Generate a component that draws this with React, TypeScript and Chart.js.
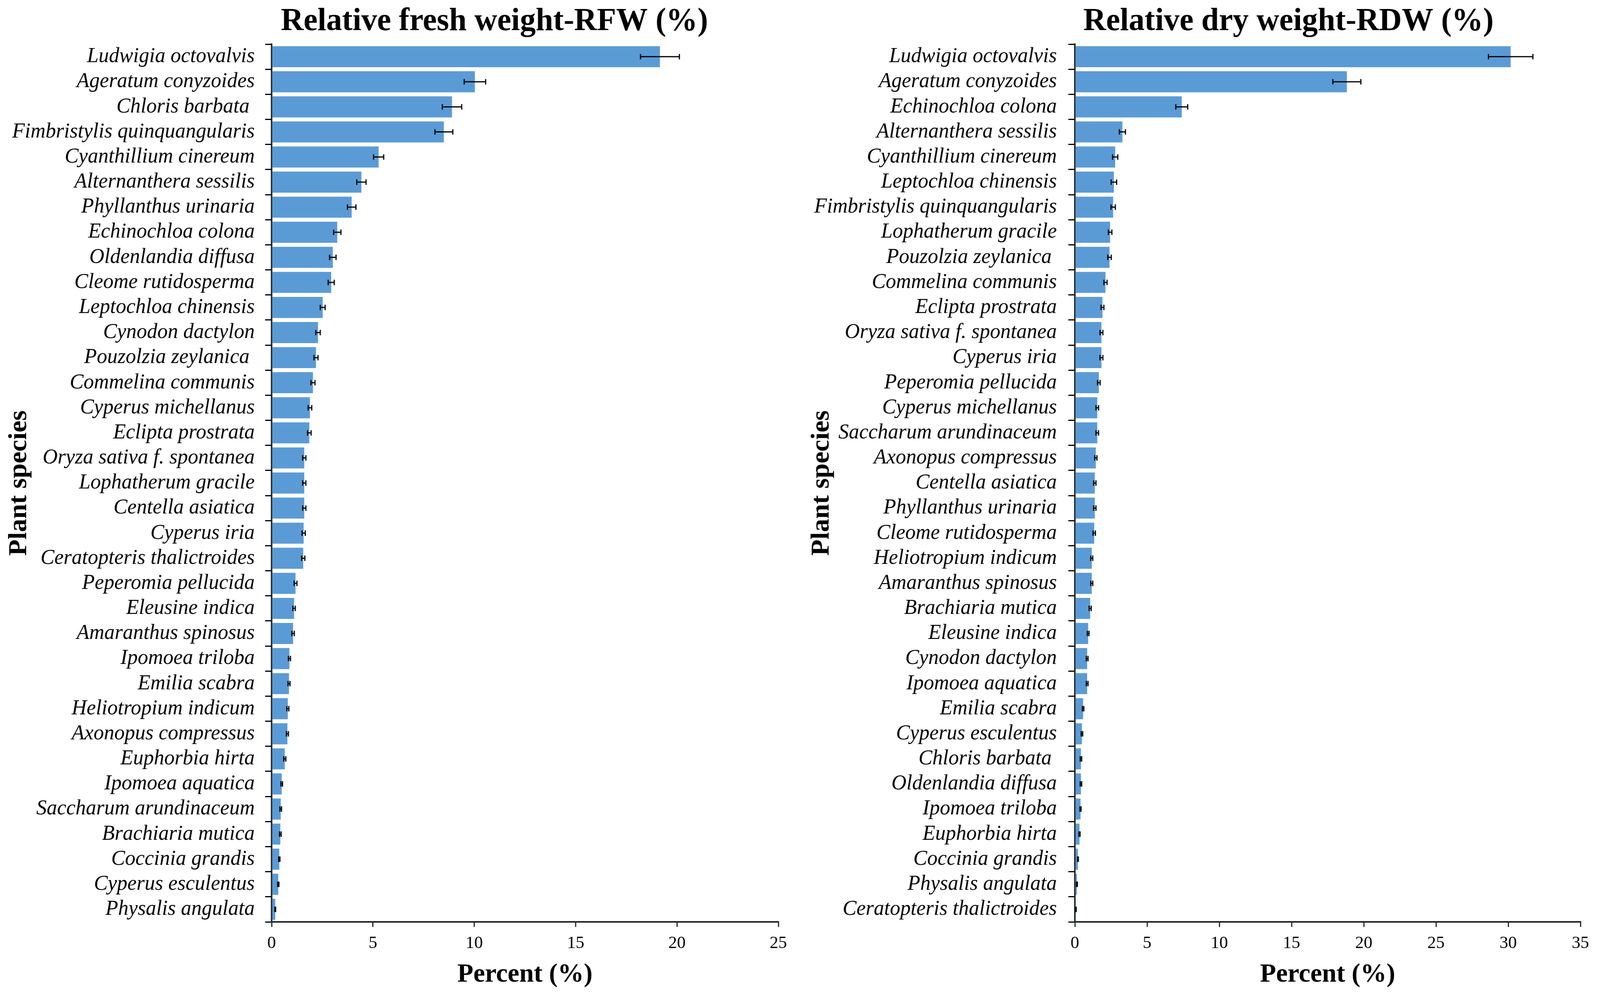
import React, { useEffect, useRef, useState } from "react";
import { Chart, registerables } from "chart.js";

Chart.register(...registerables);

// ---------- Data ----------
const freshSpecies = [
  "Ludwigia octovalvis",
  "Ageratum conyzoides",
  "Chloris barbata ",
  "Fimbristylis quinquangularis",
  "Cyanthillium cinereum",
  "Alternanthera sessilis",
  "Phyllanthus urinaria",
  "Echinochloa colona",
  "Oldenlandia diffusa",
  "Cleome rutidosperma",
  "Leptochloa chinensis",
  "Cynodon dactylon",
  "Pouzolzia zeylanica ",
  "Commelina communis",
  "Cyperus michellanus",
  "Eclipta prostrata",
  "Oryza sativa f. spontanea",
  "Lophatherum gracile",
  "Centella asiatica",
  "Cyperus iria",
  "Ceratopteris thalictroides",
  "Peperomia pellucida",
  "Eleusine indica",
  "Amaranthus spinosus",
  "Ipomoea triloba",
  "Emilia scabra",
  "Heliotropium indicum",
  "Axonopus compressus",
  "Euphorbia hirta",
  "Ipomoea aquatica",
  "Saccharum arundinaceum",
  "Brachiaria mutica",
  "Coccinia grandis",
  "Cyperus esculentus",
  "Physalis angulata",
];
const freshValues = [
  19.16, 10.03, 8.9, 8.5, 5.28, 4.43, 3.95, 3.24, 3.02, 2.94, 2.52, 2.29, 2.19,
  2.04, 1.89, 1.86, 1.61, 1.61, 1.61, 1.58, 1.56, 1.18, 1.11, 1.06, 0.88, 0.86,
  0.8, 0.78, 0.65, 0.5, 0.45, 0.43, 0.38, 0.33, 0.18,
];
const freshErrors = [
  0.96, 0.53, 0.48, 0.44, 0.25, 0.23, 0.21, 0.18, 0.16, 0.15, 0.12, 0.11, 0.1,
  0.1, 0.09, 0.09, 0.08, 0.08, 0.08, 0.08, 0.08, 0.07, 0.06, 0.06, 0.05, 0.05,
  0.05, 0.05, 0.05, 0.04, 0.04, 0.04, 0.03, 0.03, 0.02,
];

const drySpecies = [
  "Ludwigia octovalvis",
  "Ageratum conyzoides",
  "Echinochloa colona",
  "Alternanthera sessilis",
  "Cyanthillium cinereum",
  "Leptochloa chinensis",
  "Fimbristylis quinquangularis",
  "Lophatherum gracile",
  "Pouzolzia zeylanica ",
  "Commelina communis",
  "Eclipta prostrata",
  "Oryza sativa f. spontanea",
  "Cyperus iria",
  "Peperomia pellucida",
  "Cyperus michellanus",
  "Saccharum arundinaceum",
  "Axonopus compressus",
  "Centella asiatica",
  "Phyllanthus urinaria",
  "Cleome rutidosperma",
  "Heliotropium indicum",
  "Amaranthus spinosus",
  "Brachiaria mutica",
  "Eleusine indica",
  "Cynodon dactylon",
  "Ipomoea aquatica",
  "Emilia scabra",
  "Cyperus esculentus",
  "Chloris barbata ",
  "Oldenlandia diffusa",
  "Ipomoea triloba",
  "Euphorbia hirta",
  "Coccinia grandis",
  "Physalis angulata",
  "Ceratopteris thalictroides",
];
const dryValues = [
  30.17, 18.83, 7.4, 3.29, 2.79, 2.7, 2.65, 2.44, 2.4, 2.12, 1.91, 1.84, 1.84,
  1.66, 1.55, 1.55, 1.45, 1.38, 1.38, 1.34, 1.17, 1.17, 1.06, 0.92, 0.85, 0.85,
  0.57, 0.49, 0.42, 0.42, 0.39, 0.32, 0.21, 0.14, 0.07,
];
const dryErrors = [
  1.54, 0.97, 0.41, 0.21, 0.18, 0.19, 0.15, 0.12, 0.12, 0.11, 0.1, 0.1, 0.1,
  0.09, 0.09, 0.09, 0.08, 0.08, 0.08, 0.08, 0.07, 0.07, 0.07, 0.06, 0.06, 0.06,
  0.05, 0.05, 0.05, 0.05, 0.04, 0.04, 0.03, 0.03, 0.02,
];

const freshTitle = "Relative fresh weight-RFW (%)";
const dryTitle = "Relative dry weight-RDW (%)";
const xAxisTitle = "Percent (%)";
const yAxisTitle = "Plant species";

// ---------- Styling ----------
const SERIF = '"Liberation Serif", "Times New Roman", serif';
const BAR_COLOR = "#5B9BD5";
const PAGE_W = 4165;
const PAGE_H = 2541;

function errorBarPlugin(errors: number[]) {
  return {
    id: "errorBars",
    afterDatasetsDraw(chart: any) {
      const meta = chart.getDatasetMeta(0);
      const xs = chart.scales.x;
      const data = chart.data.datasets[0].data as number[];
      const ctx = chart.ctx as CanvasRenderingContext2D;
      ctx.save();
      ctx.strokeStyle = "#000";
      ctx.lineWidth = 3;
      meta.data.forEach((bar: any, i: number) => {
        const v = data[i];
        const e = errors[i];
        const x1 = xs.getPixelForValue(v - e);
        const x2 = xs.getPixelForValue(v + e);
        const y = bar.y;
        ctx.beginPath();
        ctx.moveTo(x1, y);
        ctx.lineTo(x2, y);
        ctx.moveTo(x1, y - 7);
        ctx.lineTo(x1, y + 7);
        ctx.moveTo(x2, y - 7);
        ctx.lineTo(x2, y + 7);
        ctx.stroke();
      });
      ctx.restore();
    },
  };
}

function titlePlugin(text: string, cx: number, baseline: number) {
  return {
    id: "customTitle",
    afterDraw(chart: any) {
      const ctx = chart.ctx as CanvasRenderingContext2D;
      ctx.save();
      ctx.font = `bold 82px ${SERIF}`;
      ctx.fillStyle = "#000";
      ctx.textAlign = "center";
      ctx.textBaseline = "alphabetic";
      ctx.fillText(text, cx, baseline);
      ctx.restore();
    },
  };
}

interface PanelCfg {
  labels: string[];
  values: number[];
  errors: number[];
  title: string;
  titleX: number;
  xMax: number;
  yWidth: number;
  padRight: number;
  labelPad: number;
  yTitlePad: number;
}

function makeChart(canvas: HTMLCanvasElement, cfg: PanelCfg) {
  return new Chart(canvas, {
    type: "bar",
    data: {
      labels: cfg.labels,
      datasets: [
        {
          data: cfg.values,
          backgroundColor: BAR_COLOR,
          borderWidth: 0,
          barPercentage: 0.84,
          categoryPercentage: 1,
        },
      ],
    },
    options: {
      indexAxis: "y",
      responsive: false,
      animation: false,
      devicePixelRatio: 1,
      layout: { padding: { left: 0, right: cfg.padRight, top: 113, bottom: 0 } },
      plugins: {
        legend: { display: false },
        tooltip: { enabled: false },
        title: { display: false },
      },
      scales: {
        y: {
          type: "category",
          grid: {
            display: true,
            drawOnChartArea: false,
            drawTicks: true,
            tickLength: 17,
            color: "#000",
            lineWidth: 3,
            offset: true,
          },
          border: { display: true, color: "#222", width: 4 },
          ticks: {
            autoSkip: false,
            color: "#000",
            padding: cfg.labelPad,
            font: { family: SERIF, style: "italic", size: 54 },
          },
          title: {
            display: true,
            text: yAxisTitle,
            color: "#000",
            font: { family: SERIF, weight: "bold", size: 68 },
            padding: { top: cfg.yTitlePad, bottom: 0 },
          },
          afterFit: (s: any) => {
            s.width = cfg.yWidth;
          },
        },
        x: {
          type: "linear",
          min: 0,
          max: cfg.xMax,
          grid: {
            display: true,
            drawOnChartArea: false,
            drawTicks: true,
            tickLength: 13,
            color: "#222",
            lineWidth: 3,
          },
          border: { display: true, color: "#222", width: 4 },
          ticks: {
            stepSize: 5,
            color: "#000",
            padding: 15,
            font: { family: SERIF, size: 45 },
          },
          title: {
            display: true,
            text: xAxisTitle,
            color: "#000",
            font: { family: SERIF, weight: "bold", size: 68 },
            padding: { top: 0, bottom: 6 },
          },
          afterFit: (s: any) => {
            s.height = 182;
          },
        },
      },
    } as any,
    plugins: [errorBarPlugin(cfg.errors), titlePlugin(cfg.title, cfg.titleX, 77)],
  });
}

export default function App() {
  const leftRef = useRef<HTMLCanvasElement>(null);
  const rightRef = useRef<HTMLCanvasElement>(null);
  const [scale, setScale] = useState<[number, number]>([1, 1]);

  useEffect(() => {
    document.body.style.margin = "0";
    document.body.style.overflow = "hidden";
    const update = () => {
      const w = window.innerWidth || PAGE_W;
      const h = window.innerHeight || PAGE_H;
      setScale([w / PAGE_W, h / PAGE_H]);
    };
    update();
    window.addEventListener("resize", update);
    return () => window.removeEventListener("resize", update);
  }, []);

  useEffect(() => {
    const c1 = makeChart(leftRef.current!, {
      labels: freshSpecies,
      values: freshValues,
      errors: freshErrors,
      title: freshTitle,
      titleX: 1287,
      xMax: 25,
      yWidth: 707,
      padRight: 54,
      labelPad: 27,
      yTitlePad: 10,
    });
    const c2 = makeChart(rightRef.current!, {
      labels: drySpecies,
      values: dryValues,
      errors: dryErrors,
      title: dryTitle,
      titleX: 1274,
      xMax: 35,
      yWidth: 718,
      padRight: 51,
      labelPad: 30,
      yTitlePad: 19,
    });
    return () => {
      c1.destroy();
      c2.destroy();
    };
  }, []);

  return (
    <div
      style={{
        position: "absolute",
        left: 0,
        top: 0,
        width: PAGE_W,
        height: PAGE_H,
        background: "#fff",
        overflow: "hidden",
        transformOrigin: "0 0",
        transform: `scale(${scale[0]}, ${scale[1]})`,
      }}
    >
      <canvas
        ref={leftRef}
        width={2080}
        height={PAGE_H}
        style={{ position: "absolute", left: 0, top: 0 }}
      />
      <canvas
        ref={rightRef}
        width={2085}
        height={PAGE_H}
        style={{ position: "absolute", left: 2080, top: 0 }}
      />
    </div>
  );
}
